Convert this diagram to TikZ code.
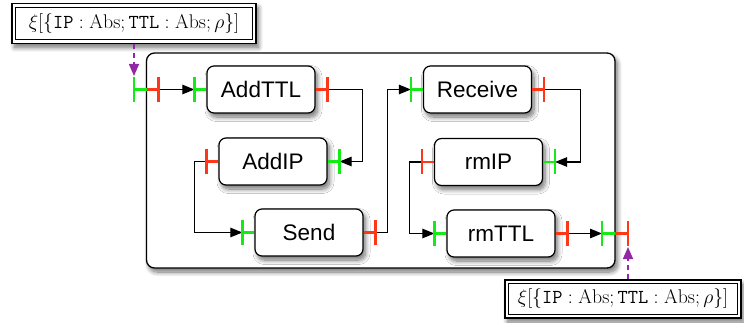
\RequirePackage{fix-cm}
\documentclass[tikz,border=0pt]{standalone}
\usepackage{fontspec}
\newfontfamily\hv{Liberation Sans}
\usetikzlibrary{arrows.meta,shadows.blur,calc}
\definecolor{pgreen}{RGB}{20,235,20}
\definecolor{pred}{RGB}{255,55,25}
\definecolor{ppurple}{RGB}{145,40,165}
\tikzset{
  x=1pt,y=-1pt,
  shd/.style={blur shadow={shadow blur steps=10,shadow xshift=2.5pt,shadow yshift=-4pt,shadow opacity=55,shadow blur radius=4.5pt}},
  proc/.style={draw=black,line width=1.2pt,fill=white,rounded corners=7pt,minimum width=108pt,minimum height=47pt,inner sep=0pt,font=\hv\fontsize{22.5}{26}\selectfont,shd},
  box/.style={draw=black,line width=1.3pt,fill=white,rounded corners=8pt,shd},
  lab/.style={draw=black,line width=1.5pt,fill=white,inner sep=0pt,font=\fontsize{19.8}{22}\selectfont,shd},
  labin/.style={draw=black,line width=0.9pt},
  inport/.style={draw=pgreen,line width=2.6pt},
  outport/.style={draw=pred,line width=2.6pt},
  conn/.style={draw=black,line width=1.1pt,-{Triangle[length=12pt,width=9.5pt]}},
  flow/.style={draw=ppurple,line width=1.4pt,dashed,dash pattern=on 5pt off 4pt,-{Triangle[length=12pt,width=10pt]}}
}
\begin{document}
\begin{tikzpicture}
\useasboundingbox (0,0) rectangle (744,323);
% container
\path[box] (146.5,53) rectangle (615,268);
% label boxes
\node[lab,minimum width=244pt,minimum height=40pt] (top) at (134,23.5) {$\xi[\{\mathtt{IP}:\mathrm{Abs};\mathtt{TTL}:\mathrm{Abs};\rho\}]$};
\draw[labin] ($(top.north west)+(4.5,4.5)$) rectangle ($(top.south east)+(-4.5,-4.5)$);
\node[lab,minimum width=236pt,minimum height=38pt] (bot) at (623,299) {$\xi[\{\mathtt{IP}:\mathrm{Abs};\mathtt{TTL}:\mathrm{Abs};\rho\}]$};
\draw[labin] ($(bot.north west)+(4.5,4.5)$) rectangle ($(bot.south east)+(-4.5,-4.5)$);
% processes
\node[proc] (AddTTL) at (261,89.5) {AddTTL};
\node[proc] (AddIP) at (273,161.5) {AddIP};
\node[proc] (Send) at (309,232.5) {Send};
\node[proc] (Receive) at (477.5,89.5) {Receive};
\node[proc] (rmIP) at (488.5,162) {rmIP};
\node[proc] (rmTTL) at (501,233.5) {rmTTL};
% port coordinates
\coordinate (AddTTL-in) at ($(AddTTL.west)+(-12,0)$);
\coordinate (AddTTL-out) at ($(AddTTL.east)+(12,0)$);
\coordinate (AddIP-in) at ($(AddIP.east)+(12,0)$);
\coordinate (AddIP-out) at ($(AddIP.west)+(-12,0)$);
\coordinate (Send-in) at ($(Send.west)+(-12,0)$);
\coordinate (Send-out) at ($(Send.east)+(12,0)$);
\coordinate (Receive-in) at ($(Receive.west)+(-12,0)$);
\coordinate (Receive-out) at ($(Receive.east)+(12,0)$);
\coordinate (rmIP-in) at ($(rmIP.east)+(12,0)$);
\coordinate (rmIP-out) at ($(rmIP.west)+(-12,0)$);
\coordinate (rmTTL-in) at ($(rmTTL.west)+(-12,0)$);
\coordinate (rmTTL-out) at ($(rmTTL.east)+(12,0)$);
\coordinate (Cl) at (146.5,89.5);
\coordinate (Cl-in) at (134,89.5);
\coordinate (Cl-out) at (158.5,89.5);
\coordinate (Cr) at (615,233.5);
\coordinate (Cr-in) at (602,233.5);
\coordinate (Cr-out) at (628,233.5);
% connectors
\draw[conn] (Cl-out) -- (AddTTL-in);
\draw[conn] (AddTTL-out) -- ++(35,0) |- (AddIP-in);
\draw[conn] (AddIP-out) -- ++(-12,0) |- (Send-in);
\draw[conn] (Send-out) -- ++(12,0) |- (Receive-in);
\draw[conn] (Receive-out) -- ++(36,0) |- (rmIP-in);
\draw[conn] (rmIP-out) -- ++(-12,0) |- (rmTTL-in);
\draw[conn] (rmTTL-out) -- (Cr-in);
% ports
\foreach \n/\s in {AddTTL/west,Send/west,Receive/west,rmTTL/west,AddIP/east,rmIP/east}{
  \draw[inport] (\n.\s) -- (\n-in) ++(0,-12.5) -- ++(0,25);
}
\foreach \n/\s in {AddTTL/east,Send/east,Receive/east,rmTTL/east,AddIP/west,rmIP/west}{
  \draw[outport] (\n.\s) -- (\n-out) ++(0,-12.5) -- ++(0,25);
}
\draw[inport] (Cl) -- (Cl-in) ++(0,-12.5) -- ++(0,25);
\draw[outport] (Cl) -- (Cl-out) ++(0,-12.5) -- ++(0,25);
\draw[inport] (Cr) -- (Cr-in) ++(0,-12.5) -- ++(0,25);
\draw[outport] (Cr) -- (Cr-out) ++(0,-12.5) -- ++(0,25);
% flows
\coordinate (Cl-top) at (134,76);
\coordinate (Cr-bot) at (628,247);
\draw[flow] (top.south -| Cl-top) -- (Cl-top);
\draw[flow] (bot.north -| Cr-bot) -- (Cr-bot);
\end{tikzpicture}
\end{document}
